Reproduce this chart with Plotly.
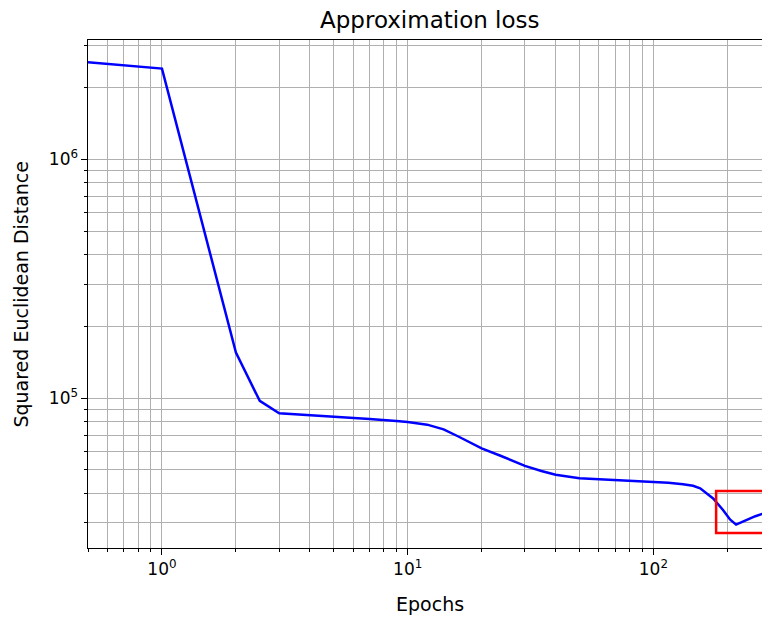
import math
import plotly.graph_objects as go

# Data (log-log)
epochs = [0.5, 1, 2, 2.5, 3, 4, 5, 7, 9, 10, 12, 14, 16, 20, 24, 28, 30, 35, 40, 50,
          70, 100, 115, 132, 145, 155, 175, 192, 205, 217, 230, 240, 260, 277, 300]
loss = [2.55e6, 2.40e6, 1.55e5, 9.73e4, 8.63e4, 8.49e4, 8.35e4, 8.17e4, 8.01e4, 7.94e4,
        7.74e4, 7.40e4, 6.92e4, 6.16e4, 5.72e4, 5.35e4, 5.20e4, 4.95e4, 4.77e4, 4.62e4,
        4.54e4, 4.46e4, 4.42e4, 4.36e4, 4.29e4, 4.19e4, 3.80e4, 3.40e4, 3.10e4, 2.95e4,
        3.02e4, 3.09e4, 3.20e4, 3.27e4, 3.33e4]

x_major = [1, 10, 100]
x_major_text = ["10<sup>0</sup>", "10<sup>1</sup>", "10<sup>2</sup>"]
y_major = [1e5, 1e6]
y_major_text = ["10<sup>5</sup>", "10<sup>6</sup>"]

# highlighted region (red box)
hl_x0, hl_x1 = 180, 400
hl_y0, hl_y1 = 2.72e4, 4.08e4

x_minor = [m * 10 ** d for d in range(-1, 3) for m in range(2, 10)]
y_minor = [m * 10 ** d for d in range(4, 7) for m in range(2, 10)]

FONT = "DejaVu Sans"
GRID = "#b0b0b0"

fig = go.Figure()
fig.add_trace(go.Scatter(x=epochs, y=loss, mode="lines",
                         line=dict(color="#0000ff", width=2.5), showlegend=False))

fig.add_shape(type="rect", xref="x", yref="y", x0=hl_x0, x1=hl_x1, y0=hl_y0, y1=hl_y1,
              line=dict(color="#ff0000", width=2.5), fillcolor="rgba(0,0,0,0)", layer="above")

axis_common = dict(
    showline=True, linecolor="black", linewidth=1.1,
    ticks="outside", ticklen=5.5, tickwidth=1.1, tickcolor="black",
    showgrid=True, gridcolor=GRID, gridwidth=1.1,
    tickfont=dict(family=FONT, size=17, color="black"),
    zeroline=False,
)

fig.update_xaxes(type="log", range=[math.log10(0.5), 2.442],
                 tickmode="array", tickvals=x_major, ticktext=x_major_text,
                 mirror=True,
                 minor=dict(tickmode="array", tickvals=x_minor, ticks="outside", ticklen=3,
                            tickwidth=1, tickcolor="black", showgrid=True,
                            gridcolor=GRID, gridwidth=1.1),
                 **axis_common)
fig.update_yaxes(type="log", range=[4.372, 6.500],
                 tickmode="array", tickvals=y_major, ticktext=y_major_text,
                 minor=dict(tickmode="array", tickvals=y_minor, ticks="outside", ticklen=3,
                            tickwidth=1, tickcolor="black", showgrid=True,
                            gridcolor=GRID, gridwidth=1.1),
                 **axis_common)

fig.update_layout(
    width=762, height=617,
    margin=dict(l=88, r=0, t=40, b=69),
    plot_bgcolor="white", paper_bgcolor="white",
    font=dict(family=FONT, color="black"),
    annotations=[
        dict(text="Approximation loss", xref="paper", yref="paper", x=0.508, y=1.0394,
             xanchor="center", yanchor="middle", showarrow=False,
             font=dict(family=FONT, size=23, color="black")),
        dict(text="Epochs", xref="paper", yref="paper", x=0.507, y=-0.110,
             xanchor="center", yanchor="middle", showarrow=False,
             font=dict(family=FONT, size=19, color="black")),
        dict(text="Squared Euclidean Distance", xref="paper", yref="paper", x=-0.100, y=0.5,
             xanchor="center", yanchor="middle", showarrow=False, textangle=-90,
             font=dict(family=FONT, size=19, color="black")),
    ],
)

fig.write_html("out.html", config={"displayModeBar": False},
               post_script="document.body.style.margin='0';document.body.style.overflow='hidden';")
